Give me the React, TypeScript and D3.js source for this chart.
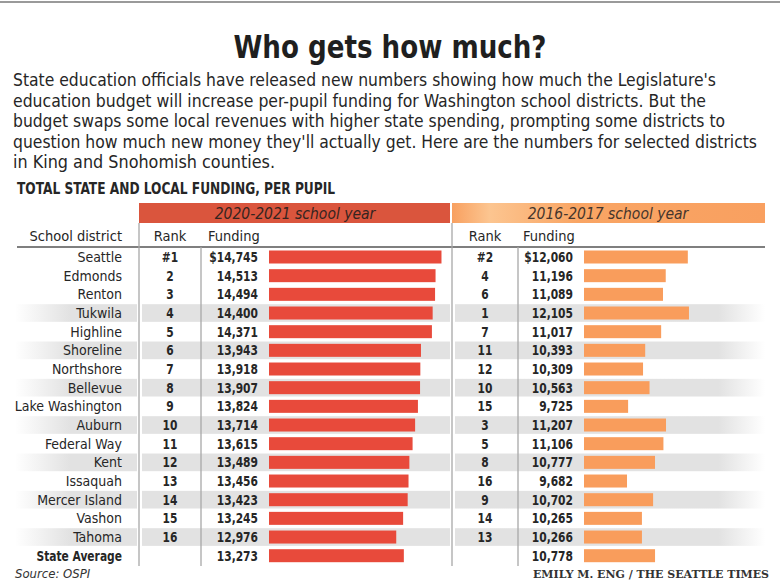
import React from 'react';
import * as d3 from 'd3';

const districts = [
  'Seattle', 'Edmonds', 'Renton', 'Tukwila', 'Highline', 'Shoreline', 'Northshore', 'Bellevue',
  'Lake Washington', 'Auburn', 'Federal Way', 'Kent', 'Issaquah', 'Mercer Island', 'Vashon', 'Tahoma',
];
const rank2021 = [1, 2, 3, 4, 5, 6, 7, 8, 9, 10, 11, 12, 13, 14, 15, 16];
const funding2021 = [14745, 14513, 14494, 14400, 14371, 13943, 13918, 13907, 13824, 13714, 13615, 13489, 13456, 13423, 13245, 12976];
const rank2017 = [2, 4, 6, 1, 7, 11, 12, 10, 15, 3, 5, 8, 16, 9, 14, 13];
const funding2017 = [12060, 11196, 11089, 12105, 11017, 10393, 10309, 10563, 9725, 11207, 11106, 10777, 9682, 10702, 10265, 10266];
const avgLabel = 'State Average';
const avg2021 = 13273;
const avg2017 = 10778;
const stripedRows = ['Tukwila', 'Shoreline', 'Bellevue', 'Auburn', 'Kent', 'Mercer Island', 'Tahoma'];

const bodyLines = [
  "State education officials have released new numbers showing how much the Legislature's",
  'education budget will increase per-pupil funding for Washington school districts. But the',
  'budget swaps some local revenues with higher state spending, prompting some districts to',
  "question how much new money they'll actually get. Here are the numbers for selected districts",
  'in King and Snohomish counties.',
];
const bodyWidths = [703, 693, 712, 744, 262];

const FONT = "'DejaVu Sans Condensed', 'Noto Sans', sans-serif";
const RED = '#e84a3b';
const ORANGE = '#f99d5c';
const INK = '#262626';

// bold DejaVu is much wider than the original face, so squeeze it horizontally
const Bold: React.FC<{ x: number; y: number; anchor?: string; size?: number; children: React.ReactNode }> = ({ x, y, anchor = 'start', size = 14.5, children }) => (
  <g transform={`translate(${x},${y}) scale(0.82,1)`}>
    <text textAnchor={anchor} fontWeight="bold" fontSize={size} fill={INK}>{children}</text>
  </g>
);

const App: React.FC = () => {
  const W = 780;
  const H = 584;

  const rows = [...districts, avgLabel];
  const y = d3.scalePoint<string>().domain(rows).range([257, 555.7]);
  const rowH = 18.67;
  const barH = 13;

  // both bar columns share the same value scale, starting at $8,000
  const xLeft = d3.scaleLinear().domain([8000, 15000]).range([269, 448]);
  const xRight = d3.scaleLinear().domain([8000, 15000]).range([584, 763]);
  const fmt = d3.format(',');
  const money = (v: number, i: number) => (i === 0 ? '$' : '') + fmt(v);

  return (
    <svg width={W} height={H} style={{ position: 'absolute', left: 0, top: 0, background: '#fff' }} fontFamily={FONT}>
      <defs>
        <linearGradient id="stripeL" x1="0" x2="1" y1="0" y2="0">
          <stop offset="0%" stopColor="#e2e2e2" stopOpacity={0} />
          <stop offset="45%" stopColor="#e2e2e2" stopOpacity={1} />
          <stop offset="100%" stopColor="#e2e2e2" stopOpacity={1} />
        </linearGradient>
        <linearGradient id="stripeR" x1="0" x2="1" y1="0" y2="0">
          <stop offset="0%" stopColor="#e2e2e2" stopOpacity={1} />
          <stop offset="85%" stopColor="#e2e2e2" stopOpacity={1} />
          <stop offset="100%" stopColor="#e2e2e2" stopOpacity={0} />
        </linearGradient>
        <linearGradient id="hdrR" x1="0" x2="1" y1="0" y2="0">
          <stop offset="0%" stopColor="#f8a060" />
          <stop offset="12%" stopColor="#fcc590" />
          <stop offset="40%" stopColor="#f9a564" />
          <stop offset="100%" stopColor="#f9a060" />
        </linearGradient>
      </defs>

      <line x1={0} x2={W} y1={2} y2={2} stroke="#9a9a9a" strokeWidth={2} />

      <text x={390} y={58} textAnchor="middle" fontSize={32} fontWeight="bold" fill="#1f1f1f"
        textLength={313} lengthAdjust="spacingAndGlyphs">
        Who gets how much?
      </text>

      {bodyLines.map((l, i) => (
        <text key={i} x={13} y={86 + i * 20.6} fontSize={17.5} fill={INK}
          textLength={bodyWidths[i]} lengthAdjust="spacingAndGlyphs">
          {l}
        </text>
      ))}

      <text x={17} y={194} fontSize={15.5} fontWeight="bold" fill={INK}
        textLength={318} lengthAdjust="spacingAndGlyphs">
        TOTAL STATE AND LOCAL FUNDING, PER PUPIL
      </text>

      {/* period headers */}
      <rect x={139} y={203} width={311} height={20} fill="#da553d" />
      <text x={295} y={218.5} textAnchor="middle" fontSize={15.5} fontStyle="italic" fill="#35241f">2020-2021 school year</text>
      <rect x={452} y={203} width={313} height={20} fill="url(#hdrR)" />
      <text x={608} y={218.5} textAnchor="middle" fontSize={15.5} fontStyle="italic" fill="#45352c">2016-2017 school year</text>

      {/* stripes */}
      {stripedRows.map((d) => (
        <g key={d}>
          <rect x={15} y={y(d)! - rowH / 2 + 0.5} width={122} height={rowH - 1} fill="url(#stripeL)" />
          <rect x={142} y={y(d)! - rowH / 2 + 0.5} width={308} height={rowH - 1} fill="#e2e2e2" />
          <rect x={455} y={y(d)! - rowH / 2 + 0.5} width={310} height={rowH - 1} fill="url(#stripeR)" />
        </g>
      ))}

      {/* column headers */}
      <g fontSize={14.5} fill={INK}>
        <text x={122} y={241} textAnchor="end">School district</text>
        <text x={170} y={241} textAnchor="middle">Rank</text>
        <text x={208} y={241}>Funding</text>
        <text x={485} y={241} textAnchor="middle">Rank</text>
        <text x={523} y={241}>Funding</text>
      </g>
      <line x1={17} x2={765} y1={247} y2={247} stroke="#555" strokeWidth={1.6} />

      {/* dividers */}
      <g stroke="#a8a8a8" strokeWidth={1.3}>
        <line x1={139} x2={139} y1={223} y2={566} />
        <line x1={201} x2={201} y1={247} y2={566} />
        <line x1={452} x2={452} y1={223} y2={566} />
        <line x1={518} x2={518} y1={247} y2={566} />
      </g>

      {/* rows */}
      {districts.map((d, i) => (
        <g key={d}>
          <text x={122} y={y(d)! + 5} textAnchor="end" fontSize={14} fill={INK}>{d}</text>
          <Bold x={170} y={y(d)! + 5} anchor="middle">{(i === 0 ? '#' : '') + rank2021[i]}</Bold>
          <Bold x={258} y={y(d)! + 5} anchor="end">{money(funding2021[i], i)}</Bold>
          <rect x={xLeft(8000)} y={y(d)! - barH / 2} width={xLeft(funding2021[i]) - xLeft(8000)} height={barH} fill={RED} />
          <Bold x={485} y={y(d)! + 5} anchor="middle">{(i === 0 ? '#' : '') + rank2017[i]}</Bold>
          <Bold x={573} y={y(d)! + 5} anchor="end">{money(funding2017[i], i)}</Bold>
          <rect x={xRight(8000)} y={y(d)! - barH / 2} width={xRight(funding2017[i]) - xRight(8000)} height={barH} fill={ORANGE} />
        </g>
      ))}

      <Bold x={122} y={y(avgLabel)! + 5} anchor="end">{avgLabel}</Bold>
      <Bold x={258} y={y(avgLabel)! + 5} anchor="end">{fmt(avg2021)}</Bold>
      <rect x={xLeft(8000)} y={y(avgLabel)! - barH / 2} width={xLeft(avg2021) - xLeft(8000)} height={barH} fill={RED} />
      <Bold x={573} y={y(avgLabel)! + 5} anchor="end">{fmt(avg2017)}</Bold>
      <rect x={xRight(8000)} y={y(avgLabel)! - barH / 2} width={xRight(avg2017) - xRight(8000)} height={barH} fill={ORANGE} />

      <text x={15} y={578} fontSize={13} fontStyle="italic" fill="#333">Source: OSPI</text>
      <text x={769} y={578} textAnchor="end" fontSize={11.5} fontWeight="bold" fill="#333"
        fontFamily="'DejaVu Serif', 'Liberation Serif', serif"
        textLength={236} lengthAdjust="spacingAndGlyphs">
        EMILY M. ENG / THE SEATTLE TIMES
      </text>
    </svg>
  );
};

export default App;
